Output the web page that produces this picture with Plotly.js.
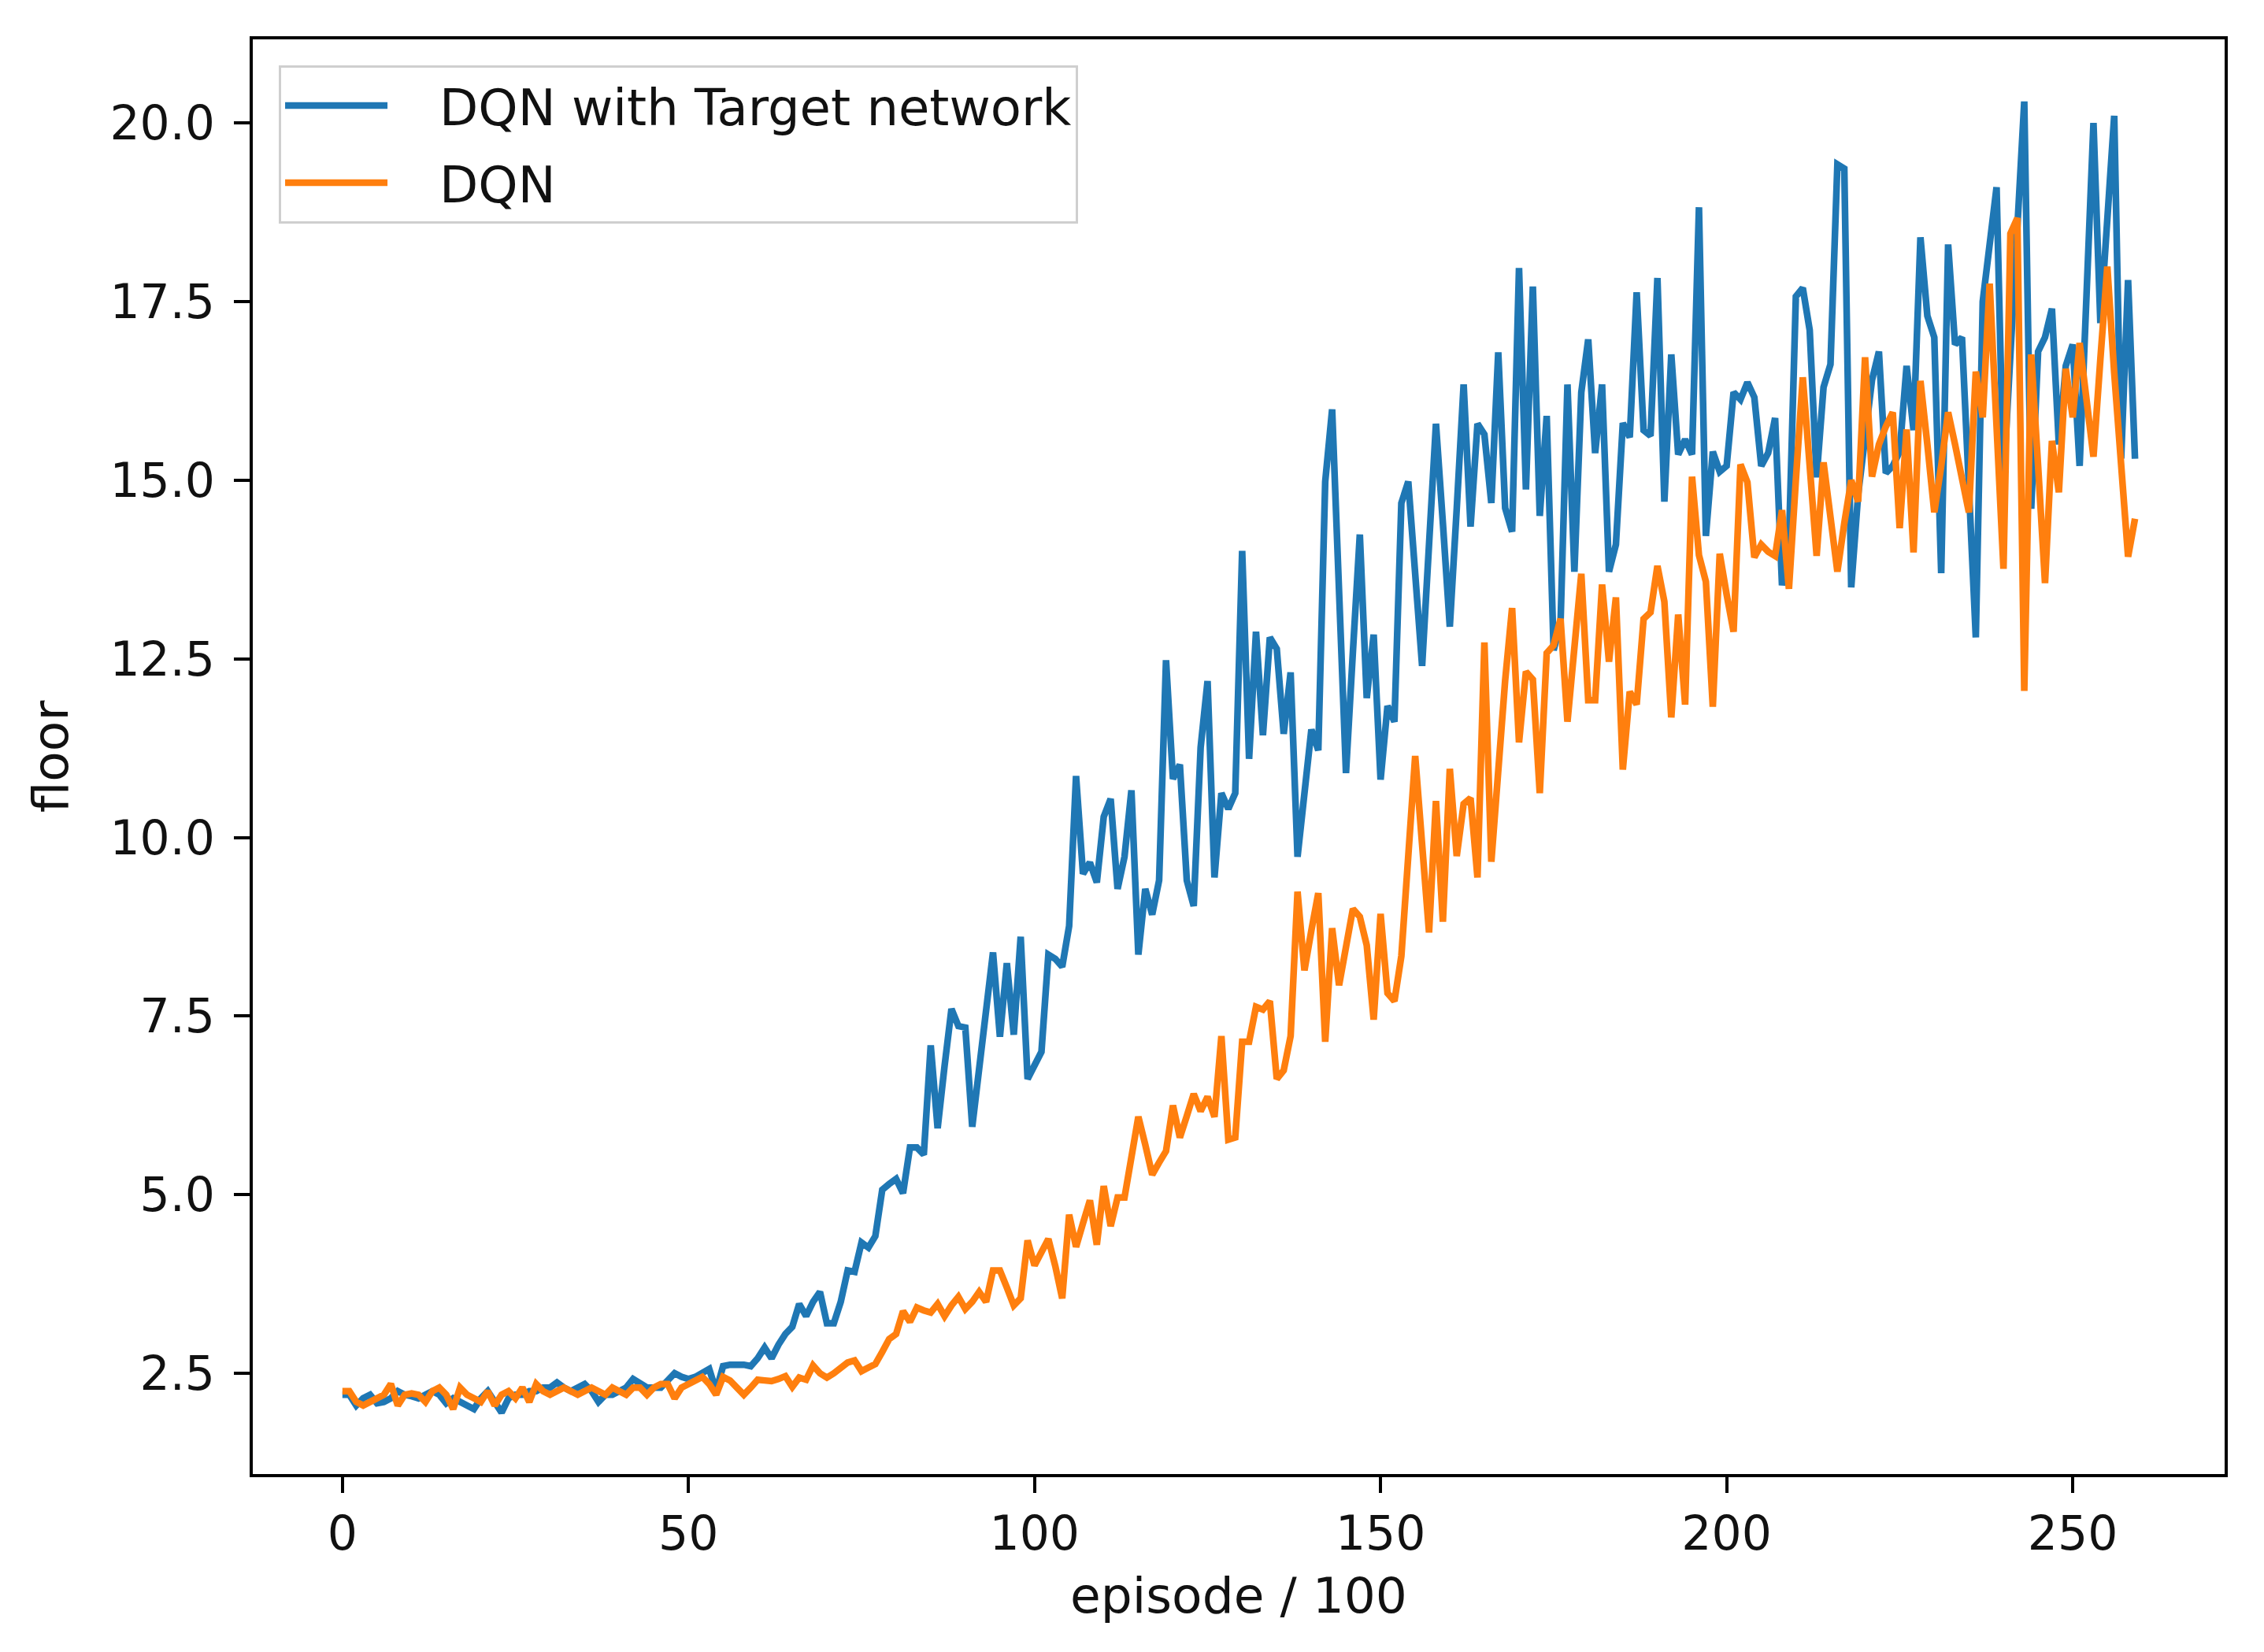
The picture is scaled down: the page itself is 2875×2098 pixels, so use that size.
<!DOCTYPE html>
<html>
<head>
<meta charset="utf-8">
<script src="https://cdn.plot.ly/plotly-3.0.1.min.js"></script>
<style>html,body{margin:0;padding:0;background:#fff;}</style>
</head>
<body>
<div id="chart" style="width:2875px;height:2098px;"></div>
<script>
// ---- data ----
const seriesNames = ["DQN with Target network", "DQN"];
const xTickVals = [0, 50, 100, 150, 200, 250];
const yTickVals = [2.5, 5.0, 7.5, 10.0, 12.5, 15.0, 17.5, 20.0];

const dqnTarget = [
  2.2, 2.2, 2.05, 2.15, 2.2, 2.08, 2.1, 2.15, 2.25, 2.2,
  2.18, 2.15, 2.2, 2.25, 2.2, 2.08, 2.15, 2.1, 2.05, 2.0,
  2.15, 2.25, 2.1, 1.95, 2.15, 2.2, 2.2, 2.25, 2.25, 2.3,
  2.3, 2.37, 2.3, 2.25, 2.3, 2.35, 2.25, 2.1, 2.2, 2.2,
  2.25, 2.3, 2.42, 2.35, 2.3, 2.3, 2.3, 2.4, 2.5, 2.45,
  2.42, 2.45, 2.5, 2.56, 2.25, 2.6, 2.62, 2.63, 2.62, 2.6,
  2.71, 2.86, 2.71, 2.9, 3.05, 3.15, 3.47, 3.3, 3.5, 3.64,
  3.2, 3.2, 3.5, 3.94, 3.92, 4.33, 4.26, 4.42, 5.07, 5.15,
  5.22, 5.02, 5.66, 5.66, 5.56, 7.09, 5.93, 6.8, 7.6, 7.36,
  7.34, 5.95, 6.8, 7.6, 8.39, 7.21, 8.24, 7.24, 8.61, 6.62,
  6.8, 7.0, 8.36, 8.3, 8.19, 8.76, 10.86, 9.49, 9.65, 9.37,
  10.29, 10.54, 9.28, 9.73, 10.66, 8.36, 9.28, 8.92, 9.4, 12.48,
  10.82, 11.02, 9.4, 9.04, 11.26, 12.19, 9.44, 10.62, 10.4, 10.62,
  14.01, 11.1, 12.88, 11.43, 12.8, 12.64, 11.45, 12.31, 9.73, 10.6,
  11.51, 11.22, 14.98, 15.99, 13.37, 10.9, 12.6, 14.24, 11.95, 12.84,
  10.81, 11.84, 11.62, 14.68, 14.98, 13.7, 12.4, 14.1, 15.79, 14.4,
  12.95, 14.6, 16.34, 14.35, 15.79, 15.64, 14.68, 16.79, 14.61, 14.28,
  17.97, 14.87, 17.71, 14.5, 15.9, 12.62, 13.0, 16.34, 13.72, 16.23,
  16.97, 15.38, 16.34, 13.72, 14.1, 15.8, 15.6, 17.63, 15.7, 15.62,
  17.83, 14.7, 16.76, 15.36, 15.57, 15.36, 18.82, 14.22, 15.4, 15.12,
  15.2, 16.23, 16.13, 16.37, 16.16, 15.2, 15.38, 15.87, 13.53, 14.13,
  17.57, 17.69, 17.1, 15.04, 16.3, 16.62, 19.42, 19.36, 13.5, 14.8,
  15.6, 16.4, 16.8, 15.1, 15.2, 15.4, 16.6, 15.7, 18.4, 17.3,
  17.0, 13.7, 18.3, 16.9, 17.0, 15.0, 12.8, 17.5, 18.3, 19.1,
  15.0, 16.8, 18.5, 20.3, 14.6, 16.8, 17.0, 17.4, 15.5, 16.6,
  16.9, 15.2, 17.6, 20.0, 17.2, 18.6, 20.1, 15.3, 17.8, 15.3
];

const dqnPlain = [
  2.25, 2.25, 2.1, 2.05, 2.1, 2.15, 2.2, 2.35, 2.05, 2.2,
  2.22, 2.2, 2.1, 2.25, 2.3, 2.2, 2.0, 2.3, 2.2, 2.15,
  2.1, 2.25, 2.05, 2.2, 2.25, 2.15, 2.3, 2.1, 2.35, 2.25,
  2.2, 2.25, 2.3, 2.25, 2.2, 2.25, 2.3, 2.25, 2.2, 2.3,
  2.25, 2.2, 2.3, 2.3, 2.2, 2.3, 2.35, 2.35, 2.15, 2.3,
  2.35, 2.4, 2.45, 2.35, 2.2, 2.45, 2.4, 2.3, 2.2, 2.3,
  2.41, 2.4, 2.39, 2.42, 2.46, 2.31, 2.44, 2.41, 2.61, 2.5,
  2.44, 2.5, 2.58, 2.65, 2.68, 2.53, 2.58, 2.63, 2.8, 2.98,
  3.05, 3.37, 3.22, 3.42, 3.38, 3.35, 3.47, 3.3, 3.45, 3.57,
  3.4, 3.5, 3.64, 3.5, 3.94, 3.94, 3.7, 3.45, 3.55, 4.36,
  4.01, 4.2, 4.38, 4.0, 3.55, 4.72, 4.27, 4.6, 4.92, 4.3,
  5.12, 4.56, 4.96, 4.96, 5.5, 6.09, 5.7, 5.28, 5.45, 5.61,
  6.25, 5.8, 6.1, 6.41, 6.17, 6.37, 6.09, 7.22, 5.77, 5.8,
  7.14, 7.14, 7.63, 7.59, 7.71, 6.62, 6.74, 7.22, 9.24, 8.14,
  8.7, 9.22, 7.14, 8.73, 7.93, 8.5, 9.0, 8.89, 8.49, 7.45,
  8.93, 7.82, 7.71, 8.34, 9.8, 11.14, 9.9, 8.67, 10.51, 8.82,
  10.96, 9.74, 10.47, 10.55, 9.44, 12.73, 9.66, 11.0, 12.2, 13.21,
  11.33, 12.32, 12.21, 10.62, 12.58, 12.69, 13.06, 11.62, 12.7, 13.69,
  11.92, 11.92, 13.54, 12.46, 13.36, 10.95, 12.04, 11.86, 13.06, 13.15,
  13.8, 13.3, 11.68, 13.12, 11.86, 15.05, 13.95, 13.58, 11.83, 13.97,
  13.4, 12.88, 15.22, 14.97, 13.92, 14.1, 14.0, 13.94, 14.58, 13.48,
  15.0, 16.44, 15.2, 13.94, 15.25, 14.4, 13.72, 14.4, 15.0, 14.7,
  16.72, 15.05, 15.5, 15.75, 15.95, 14.33, 15.71, 13.99, 16.39, 15.5,
  14.55, 15.2, 15.95, 15.5, 15.0, 14.55, 16.52, 15.88, 17.75, 15.8,
  13.76, 18.45, 18.67, 12.05, 16.76, 15.2, 13.56, 15.55, 14.83, 16.56,
  15.88, 16.92, 16.1, 15.33, 16.7, 17.99, 16.5, 15.1, 13.93, 14.46
];

// episode index (x position of each point)
const episodes = [];
for (let k = 0; k < dqnTarget.length; k++) episodes.push(k);

const FONT = "DejaVu Sans, Liberation Sans, sans-serif";
const GAP = "\u00a0\u00a0\u00a0";   // space between legend handle and label

const traces = [
  {
    x: episodes, y: dqnTarget, name: GAP + seriesNames[0], legendgroup: "a",
    type: "scatter", mode: "lines",
    line: {color: "#1f77b4", width: 8.5}
  },
  {
    x: episodes, y: dqnPlain, name: GAP + seriesNames[1], legendgroup: "b",
    type: "scatter", mode: "lines",
    line: {color: "#ff7f0e", width: 8.5}
  }
];

const axisCommon = {
  showgrid: false, zeroline: false,
  showline: true, mirror: true, linecolor: "#000", linewidth: 4,
  ticks: "outside", ticklen: 20, tickwidth: 4, tickcolor: "#000",
  tickfont: {family: FONT, size: 60, color: "#111"}
};

const layout = {
  width: 2875, height: 2098,
  margin: {l: 321, r: 50, t: 50, b: 226, pad: 0},
  paper_bgcolor: "#fff", plot_bgcolor: "#fff",
  font: {family: FONT, size: 60, color: "#111"},
  showlegend: true,
  xaxis: Object.assign({}, axisCommon, {
    range: [-12.95, 271.95],
    tickmode: "array", tickvals: xTickVals,
    title: {text: "episode / 100", standoff: 24, font: {family: FONT, size: 63, color: "#111"}}
  }),
  yaxis: Object.assign({}, axisCommon, {
    range: [1.09, 21.17],
    tickmode: "array", tickvals: yTickVals, tickformat: ".1f",
    ticklabelstandoff: 12,
    title: {text: "floor", standoff: 33, font: {family: FONT, size: 63, color: "#111"}}
  }),
  legend: {
    x: 0.0132, y: 0.982, xanchor: "left", yanchor: "top",
    bgcolor: "rgba(255,255,255,0.85)", bordercolor: "#cfcfcf", borderwidth: 3,
    font: {family: FONT, size: 64, color: "#111"},
    itemwidth: 130, tracegroupgap: 12
  }
};

Plotly.newPlot("chart", traces, layout, {displayModeBar: false, staticPlot: true});
</script>
</body>
</html>
